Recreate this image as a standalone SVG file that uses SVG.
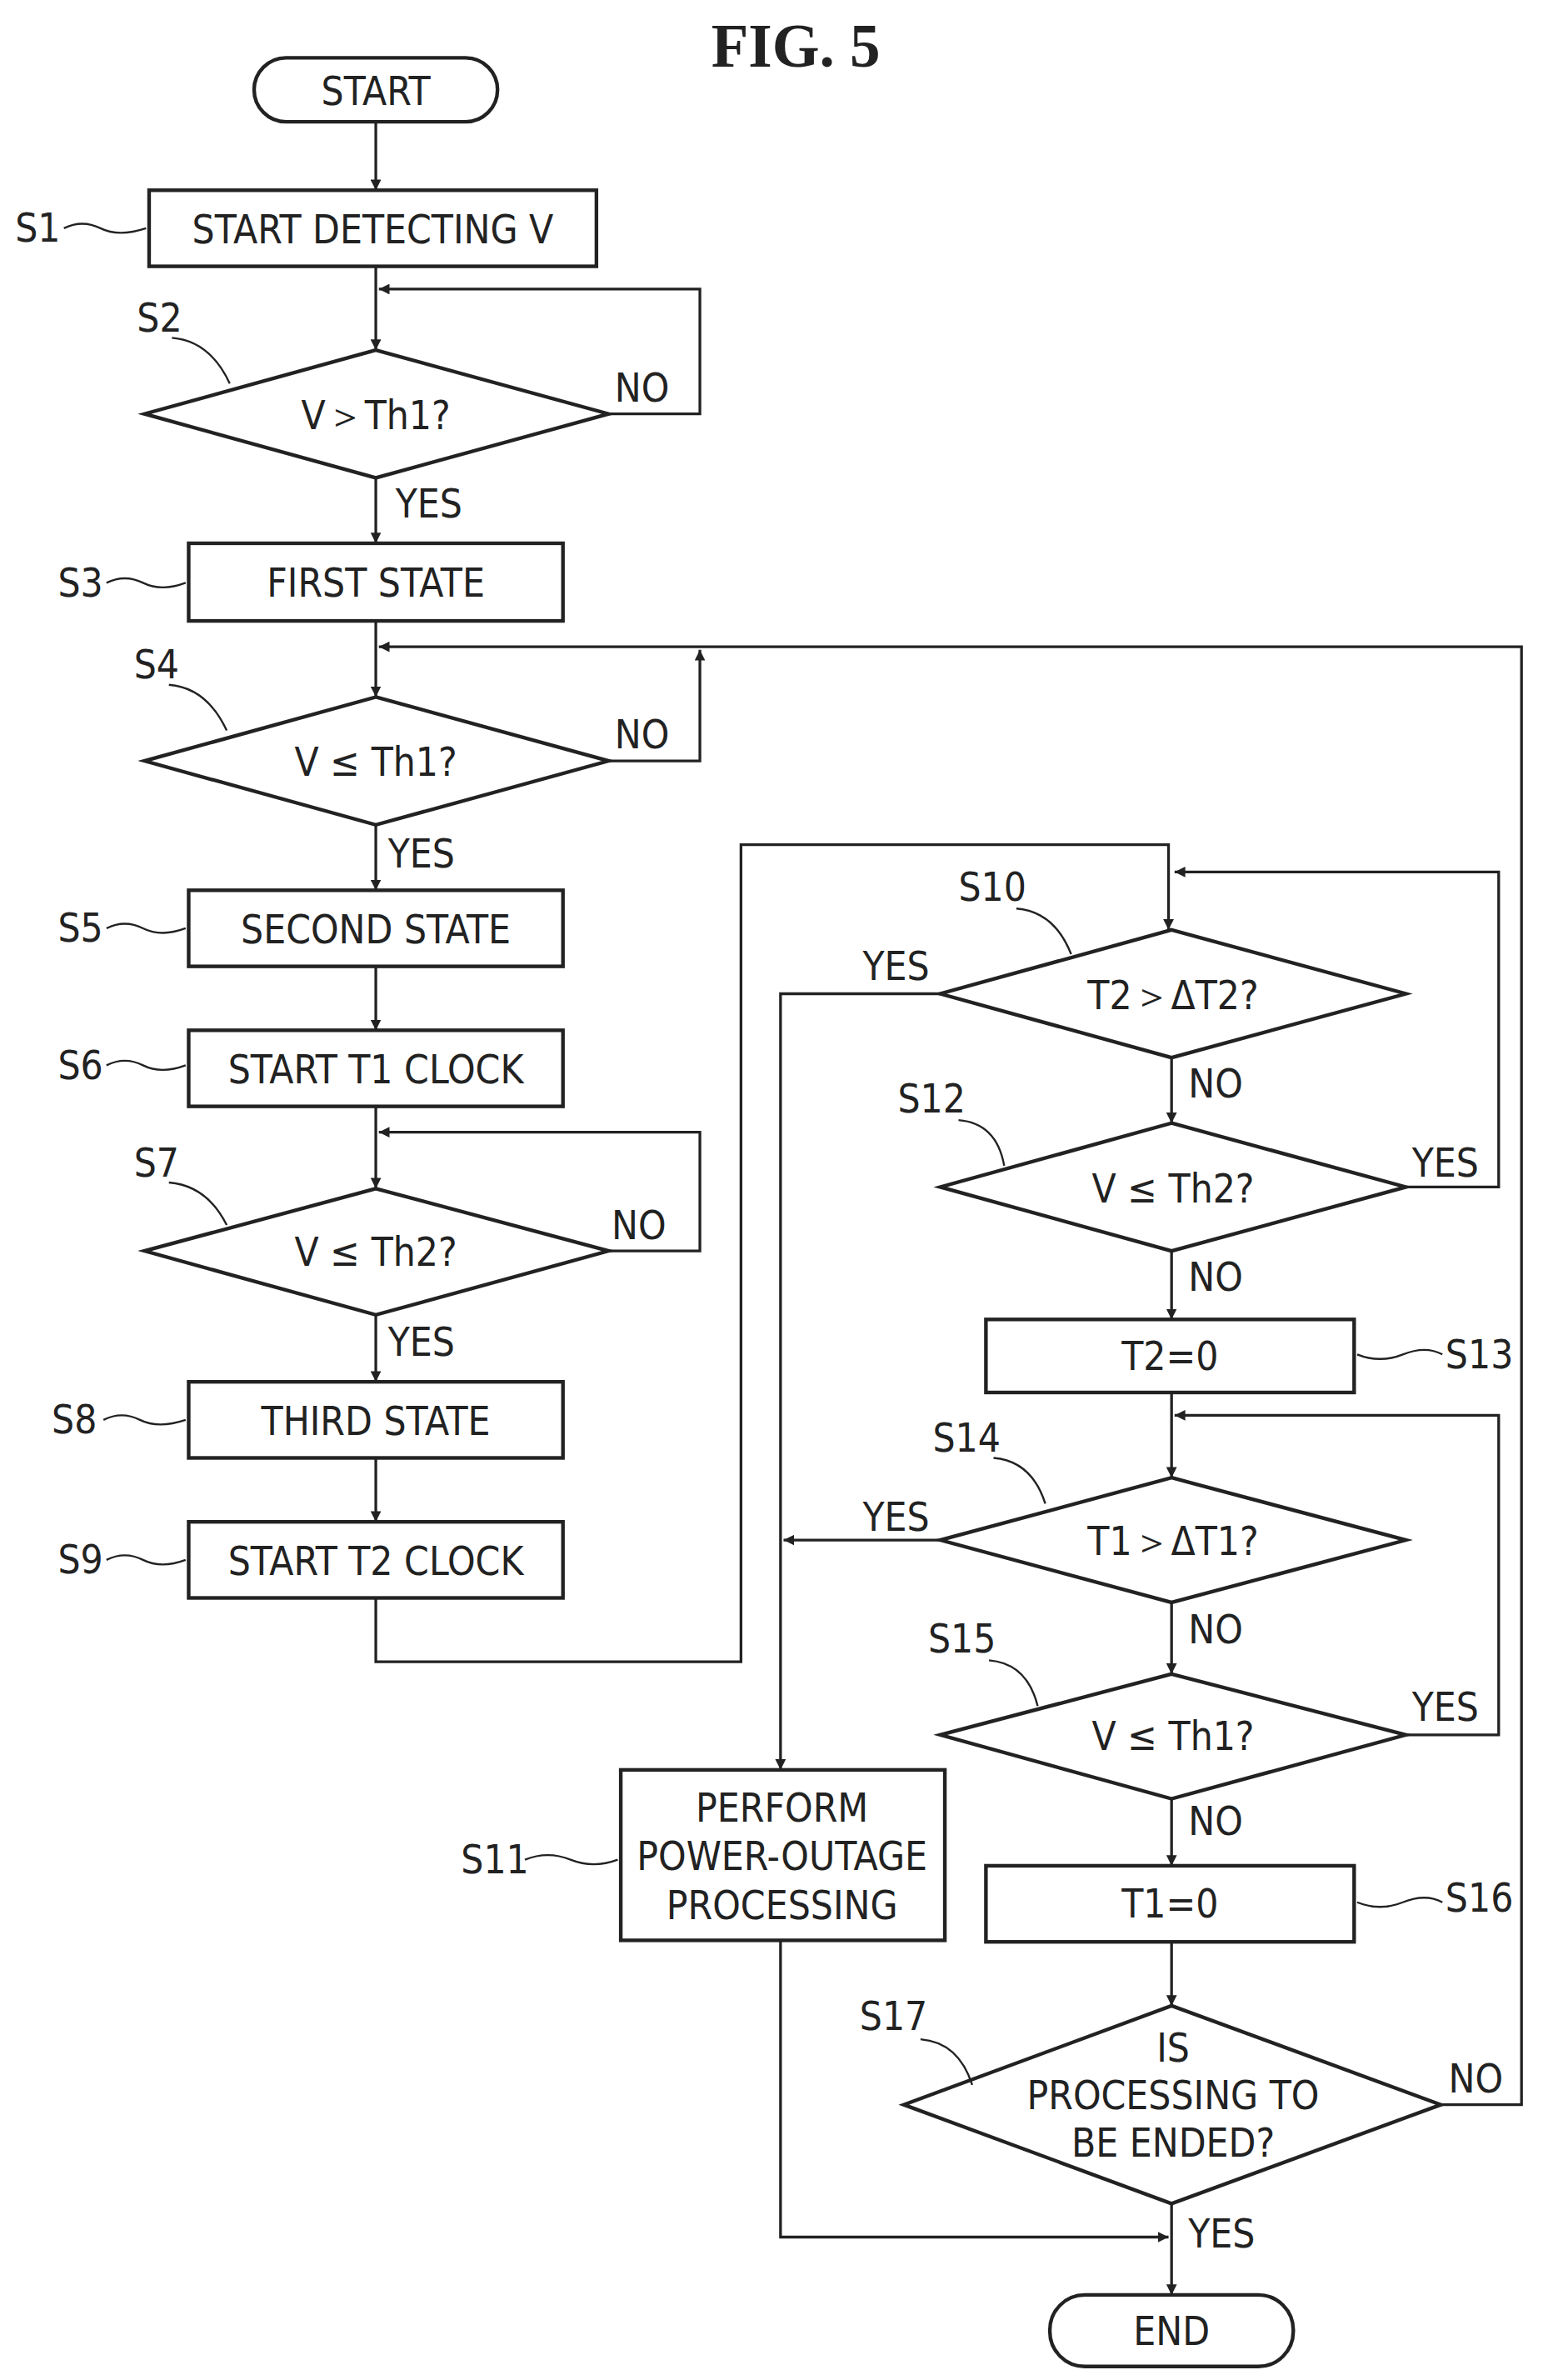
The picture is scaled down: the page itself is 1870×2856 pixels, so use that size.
<svg xmlns="http://www.w3.org/2000/svg" width="1870" height="2856" viewBox="0 0 1870 2856">
<defs>
<marker id="ah" viewBox="0 0 10 10" refX="10" refY="5" markerWidth="7" markerHeight="7" orient="auto" markerUnits="userSpaceOnUse"><path d="M0,0 L10,5 L0,10 z" fill="#222"/></marker>
<style>
.s{fill:#fff;stroke:#222;stroke-width:2.4}
.c{fill:none;stroke:#222;stroke-width:1.8}
.l{fill:none;stroke:#222;stroke-width:1.3}
text{font-family:"DejaVu Sans Condensed","Liberation Sans",sans-serif;font-size:26px;fill:#222}
.m{text-anchor:middle}
.t{font-family:"Liberation Serif",serif;font-size:40px;font-weight:bold}
</style>
</defs>
<rect width="1870" height="2856" fill="#fff"/>
<g transform="scale(1.8262)">
<text class="t m" x="523" y="44">FIG. 5</text>
<g id="connectors">
<path class="c" marker-end="url(#ah)" d="M247,80 V125"/>
<path class="c" marker-end="url(#ah)" d="M247,175 V230"/>
<path class="c" marker-end="url(#ah)" d="M400,272 H460 V190 H249"/>
<path class="c" marker-end="url(#ah)" d="M247,314 V357"/>
<path class="c" marker-end="url(#ah)" d="M247,408 V458"/>
<path class="c" marker-end="url(#ah)" d="M400,500 H460 V427"/>
<path class="c" marker-end="url(#ah)" d="M947,1383 H1000 V425 H249"/>
<path class="c" marker-end="url(#ah)" d="M247,542 V585"/>
<path class="c" marker-end="url(#ah)" d="M247,635 V677"/>
<path class="c" marker-end="url(#ah)" d="M247,727 V781"/>
<path class="c" marker-end="url(#ah)" d="M400,822 H460 V744 H249"/>
<path class="c" marker-end="url(#ah)" d="M247,864 V908"/>
<path class="c" marker-end="url(#ah)" d="M247,958 V1000"/>
<path class="c" marker-end="url(#ah)" d="M247,1050 V1092 H487 V555 H768 V611"/>
<path class="c" marker-end="url(#ah)" d="M618,653 H513 V1163"/>
<path class="c" marker-end="url(#ah)" d="M924,780 H985 V573 H772"/>
<path class="c" marker-end="url(#ah)" d="M770,695 V738"/>
<path class="c" marker-end="url(#ah)" d="M770,822 V867"/>
<path class="c" marker-end="url(#ah)" d="M770,915 V971"/>
<path class="c" marker-end="url(#ah)" d="M618,1012 H515"/>
<path class="c" marker-end="url(#ah)" d="M924,1140 H985 V930 H772"/>
<path class="c" marker-end="url(#ah)" d="M770,1053 V1100"/>
<path class="c" marker-end="url(#ah)" d="M770,1182 V1226"/>
<path class="c" marker-end="url(#ah)" d="M770,1276 V1318"/>
<path class="c" marker-end="url(#ah)" d="M770,1448 V1508"/>
<path class="c" marker-end="url(#ah)" d="M513,1275 V1470 H768"/>
<text x="404" y="264">NO</text>
<text x="260" y="340">YES</text>
<text x="404" y="492">NO</text>
<text x="255" y="570">YES</text>
<text x="402" y="814">NO</text>
<text x="255" y="891">YES</text>
<text x="567" y="644">YES</text>
<text x="781" y="721">NO</text>
<text x="928" y="773">YES</text>
<text x="781" y="848">NO</text>
<text x="567" y="1006">YES</text>
<text x="781" y="1080">NO</text>
<text x="928" y="1131">YES</text>
<text x="781" y="1206">NO</text>
<text x="952" y="1375">NO</text>
<text x="781" y="1477">YES</text>
</g>
<g id="start"><rect class="s" x="167" y="38" width="160" height="42" rx="21"/><text class="m" x="247" y="69">START</text></g>
<g id="s1"><rect class="s" x="98" y="125" width="294" height="50"/><text class="m" x="245" y="160">START DETECTING V</text><text x="10" y="159">S1</text><path class="l" d="M42,150 q12,-6 24,0 t30,0"/></g>
<g id="s2"><polygon class="s" points="247,230 400,272 247,314 95,272"/><text class="m" x="247" y="282">V＞Th1?</text><text x="90" y="218">S2</text><path class="l" d="M113,222 q25,2 38,30"/></g>
<g id="s3"><rect class="s" x="124" y="357" width="246" height="51"/><text class="m" x="247" y="392">FIRST STATE</text><text x="38" y="392">S3</text><path class="l" d="M70,383 q12,-6 24,0 t28,0"/></g>
<g id="s4"><polygon class="s" points="247,458 400,500 247,542 95,500"/><text class="m" x="247" y="510">V ≤ Th1?</text><text x="88" y="446">S4</text><path class="l" d="M111,450 q25,2 38,30"/></g>
<g id="s5"><rect class="s" x="124" y="585" width="246" height="50"/><text class="m" x="247" y="620">SECOND STATE</text><text x="38" y="619">S5</text><path class="l" d="M70,610 q12,-6 24,0 t28,0"/></g>
<g id="s6"><rect class="s" x="124" y="677" width="246" height="50"/><text class="m" x="247" y="712">START T1 CLOCK</text><text x="38" y="709">S6</text><path class="l" d="M70,700 q12,-6 24,0 t28,0"/></g>
<g id="s7"><polygon class="s" points="247,781 400,822 247,864 95,822"/><text class="m" x="247" y="832">V ≤ Th2?</text><text x="88" y="773">S7</text><path class="l" d="M111,777 q25,2 38,28"/></g>
<g id="s8"><rect class="s" x="124" y="908" width="246" height="50"/><text class="m" x="247" y="943">THIRD STATE</text><text x="34" y="942">S8</text><path class="l" d="M68,933 q12,-6 24,0 t30,0"/></g>
<g id="s9"><rect class="s" x="124" y="1000" width="246" height="50"/><text class="m" x="247" y="1035">START T2 CLOCK</text><text x="38" y="1034">S9</text><path class="l" d="M70,1025 q12,-6 24,0 t28,0"/></g>
<g id="s10"><polygon class="s" points="770,611 924,653 770,695 618,653"/><text class="m" x="771" y="663">T2＞ΔT2?</text><text x="630" y="592">S10</text><path class="l" d="M668,597 q25,2 36,30"/></g>
<g id="s11"><rect class="s" x="408" y="1163" width="213" height="112"/><text class="m" x="514" y="1197">PERFORM</text><text class="m" x="514" y="1229">POWER-OUTAGE</text><text class="m" x="514" y="1261">PROCESSING</text><text x="303" y="1231">S11</text><path class="l" d="M345,1222 q15,-6 30,0 t31,0"/></g>
<g id="s12"><polygon class="s" points="770,738 924,780 770,822 618,780"/><text class="m" x="771" y="790">V ≤ Th2?</text><text x="590" y="731">S12</text><path class="l" d="M630,736 q25,2 30,30"/></g>
<g id="s13"><rect class="s" x="648" y="867" width="242" height="48"/><text class="m" x="769" y="900">T2=0</text><text x="950" y="899">S13</text><path class="l" d="M892,890 q15,6 30,0 t26,0"/></g>
<g id="s14"><polygon class="s" points="770,971 924,1012 770,1053 618,1012"/><text class="m" x="771" y="1022">T1＞ΔT1?</text><text x="613" y="954">S14</text><path class="l" d="M653,958 q25,2 34,30"/></g>
<g id="s15"><polygon class="s" points="770,1100 924,1140 770,1182 618,1140"/><text class="m" x="771" y="1150">V ≤ Th1?</text><text x="610" y="1086">S15</text><path class="l" d="M650,1091 q25,2 32,30"/></g>
<g id="s16"><rect class="s" x="648" y="1226" width="242" height="50"/><text class="m" x="769" y="1260">T1=0</text><text x="950" y="1256">S16</text><path class="l" d="M892,1250 q15,6 30,0 t26,0"/></g>
<g id="s17"><polygon class="s" points="770,1318 947,1383 770,1448 594,1383"/><text class="m" x="771" y="1355">IS</text><text class="m" x="771" y="1386">PROCESSING TO</text><text class="m" x="771" y="1417">BE ENDED?</text><text x="565" y="1334">S17</text><path class="l" d="M605,1340 q25,2 34,30"/></g>
<g id="end"><rect class="s" x="690" y="1508" width="160" height="47" rx="23"/><text class="m" x="770" y="1541">END</text></g>
</g>
</svg>
